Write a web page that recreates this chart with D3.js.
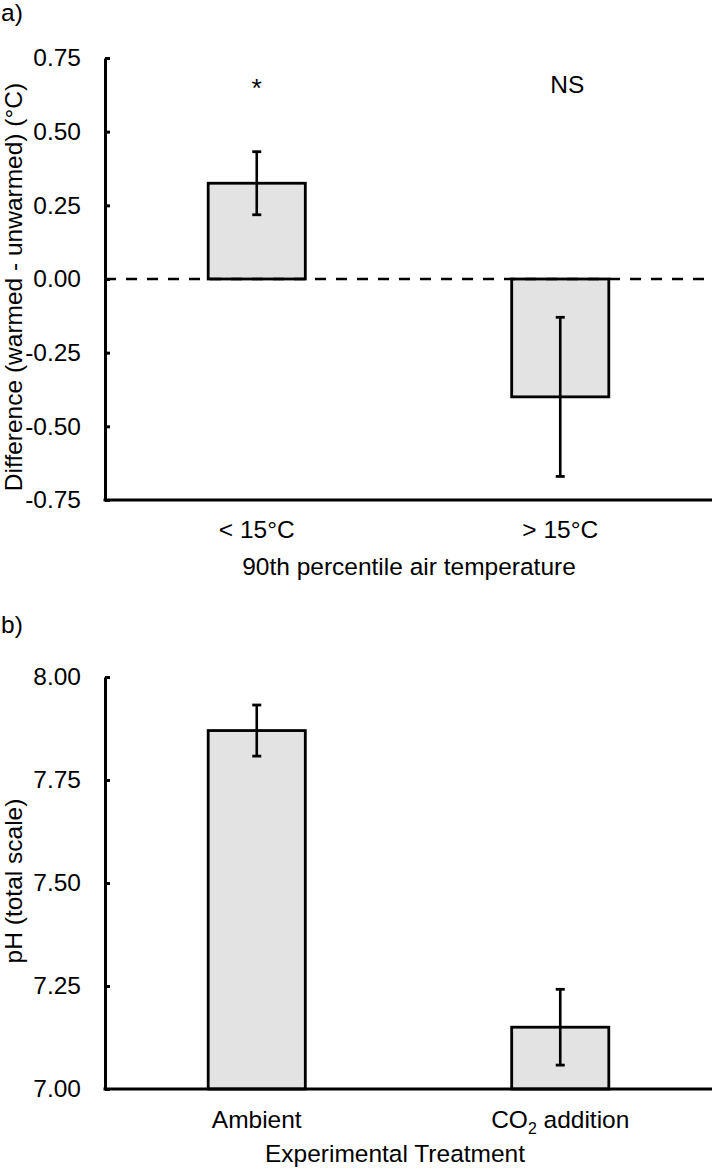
<!DOCTYPE html>
<html>
<head>
<meta charset="utf-8">
<script src="https://cdn.jsdelivr.net/npm/d3@7"></script>
<style>
  html, body { margin: 0; padding: 0; background: #fff; }
  svg { display: block; }
  text { font-family: "Liberation Sans", Arial, sans-serif; fill: #000; }
</style>
</head>
<body>
<svg id="chart" width="714" height="1170"></svg>
<script>
// ---- Data ----
const catsA = ["< 15°C", "> 15°C"];
const valsA = [0.325, -0.40];
const errA = [0.107, 0.27];
const sigA = ["*", "NS"];
const ticksA = [-0.75, -0.5, -0.25, 0, 0.25, 0.5, 0.75];

const catsB = ["Ambient", "CO2 addition"];
const valsB = [7.87, 7.15];
const errB = [0.062, 0.092];
const ticksB = [7.0, 7.25, 7.5, 7.75, 8.0];

// ---- Layout ----
const svg = d3.select("#chart");
const FS = 24.5;
const fill = "#e3e3e3";
const x0 = 105, x1 = 712;

function panel(opts) {
  const g = svg.append("g");
  const x = d3.scaleBand().domain(opts.cats).range([x0, x1]).paddingInner(0.68).paddingOuter(0.34);
  const y = d3.scaleLinear().domain(opts.domain).range(opts.yRange);
  const base = opts.base;

  // bars
  g.selectAll("rect.bar").data(opts.vals).join("rect")
    .attr("class", "bar")
    .attr("x", (d, i) => x(opts.cats[i]))
    .attr("width", x.bandwidth())
    .attr("y", d => Math.min(y(d), y(base)))
    .attr("height", d => Math.abs(y(d) - y(base)))
    .attr("fill", fill)
    .attr("stroke", "#000")
    .attr("stroke-width", 2.8);

  // dashed zero line
  if (opts.dashed) {
    g.append("line")
      .attr("x1", x0).attr("x2", x1)
      .attr("y1", y(0)).attr("y2", y(0))
      .attr("stroke", "#000").attr("stroke-width", 2.6)
      .attr("stroke-dasharray", "11,10");
  }

  // error bars
  opts.vals.forEach((v, i) => {
    const cx = x(opts.cats[i]) + x.bandwidth() / 2;
    const e = opts.errs[i];
    g.append("line").attr("x1", cx).attr("x2", cx)
      .attr("y1", y(v - e)).attr("y2", y(v + e))
      .attr("stroke", "#000").attr("stroke-width", 2.6);
    [v - e, v + e].forEach(t => {
      g.append("line").attr("x1", cx - 4.5).attr("x2", cx + 4.5)
        .attr("y1", y(t)).attr("y2", y(t))
        .attr("stroke", "#000").attr("stroke-width", 2.8);
    });
  });

  // y axis
  const ax = d3.axisLeft(y).tickValues(opts.ticks)
    .tickFormat(d => d.toFixed(2))
    .tickSizeInner(-5).tickSizeOuter(0).tickPadding(24);
  const ag = g.append("g").attr("transform", `translate(${x0},0)`).call(ax);
  ag.select(".domain").attr("stroke-width", 3).attr("stroke", "#000");
  ag.selectAll(".tick line").attr("stroke-width", 3).attr("stroke", "#000");
  ag.selectAll(".tick text").attr("font-size", FS).attr("font-family", "Liberation Sans, Arial, sans-serif").attr("fill", "#000");

  // x axis line
  g.append("line").attr("x1", x0 - 1.5).attr("x2", x1)
    .attr("y1", y(opts.domain[0])).attr("y2", y(opts.domain[0]))
    .attr("stroke", "#000").attr("stroke-width", 3);

  // category labels
  opts.cats.forEach((c, i) => {
    const cx = x(c) + x.bandwidth() / 2;
    const t = g.append("text").attr("x", cx).attr("y", opts.catY)
      .attr("text-anchor", "middle").attr("font-size", FS);
    if (c.startsWith("CO2")) {
      t.append("tspan").text("CO");
      t.append("tspan").text("2").attr("font-size", FS * 0.65).attr("dy", 6);
      t.append("tspan").text(c.slice(3)).attr("dy", -6);
    } else {
      t.text(c);
    }
  });

  // significance labels
  if (opts.sig) {
    opts.sig.forEach((s, i) => {
      const cx = x(opts.cats[i]) + x.bandwidth() / 2;
      g.append("text").attr("x", cx + (s === "NS" ? 7 : 0)).attr("y", s === "*" ? 97 : 93)
        .attr("text-anchor", "middle").attr("font-size", s === "*" ? FS + 2 : FS).text(s);
    });
  }

  // x title
  g.append("text").attr("x", opts.xTitleX).attr("y", opts.xTitleY)
    .attr("text-anchor", "middle").attr("font-size", FS).text(opts.xTitle);

  // y title
  g.append("text").attr("transform", `translate(${opts.yTitleX},${opts.yTitleY}) rotate(-90)`)
    .attr("text-anchor", "middle").attr("font-size", FS).text(opts.yTitle);

  // panel letter
  g.append("text").attr("x", 1).attr("y", opts.letterY)
    .attr("font-size", FS).text(opts.letter);
}

panel({
  cats: catsA, vals: valsA, errs: errA, sig: sigA, ticks: ticksA,
  domain: [-0.75, 0.75], yRange: [500, 58], base: 0, dashed: true,
  catY: 538, xTitle: "90th percentile air temperature", xTitleX: 409, xTitleY: 575,
  yTitle: "Difference (warmed - unwarmed) (°C)", yTitleX: 21.5, yTitleY: 287,
  letter: "a)", letterY: 21
});

panel({
  cats: catsB, vals: valsB, errs: errB, ticks: ticksB,
  domain: [7.0, 8.0], yRange: [1089, 677], base: 7.0, dashed: false,
  catY: 1128, xTitle: "Experimental Treatment", xTitleX: 395, xTitleY: 1162,
  yTitle: "pH (total scale)", yTitleX: 21.5, yTitleY: 881,
  letter: "b)", letterY: 633
});
</script>
</body>
</html>
